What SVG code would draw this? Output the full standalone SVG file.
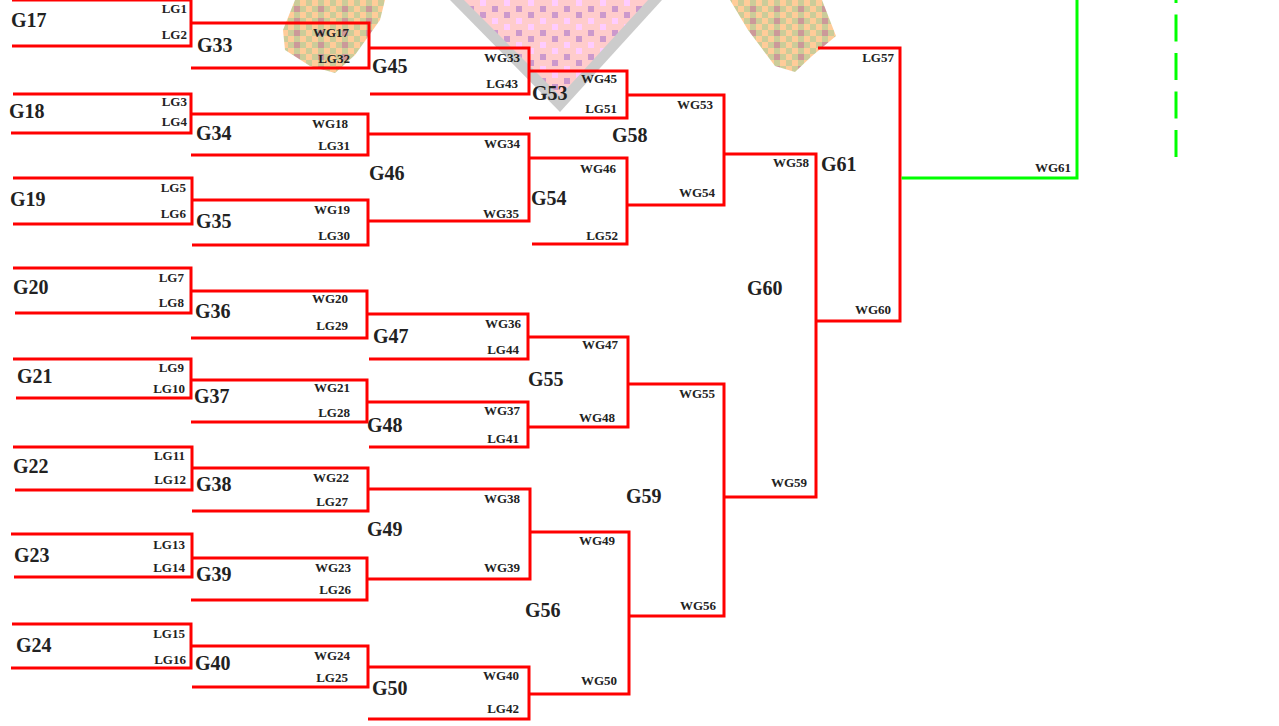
<svg xmlns="http://www.w3.org/2000/svg" width="1279" height="726" viewBox="0 0 1279 726">
<defs>
<pattern id="orng" width="24" height="12" patternUnits="userSpaceOnUse">
<rect width="24" height="12" fill="#ffcc99"/>
<rect x="6" y="0" width="6" height="6" fill="#cccc99"/>
<rect x="18" y="0" width="6" height="6" fill="#cccc99"/>
<rect x="0" y="6" width="6" height="6" fill="#cccc99"/>
<rect x="12" y="6" width="6" height="6" fill="#cccc99"/>
<rect x="6" y="6" width="6" height="6" fill="#cc9999"/>
</pattern>
<pattern id="pink" width="24" height="24" patternUnits="userSpaceOnUse">
<rect width="24" height="24" fill="#ffcccc"/>
<rect x="0" y="0" width="6" height="6" fill="#ffccff"/>
<rect x="0" y="12" width="6" height="6" fill="#cc99cc"/>
<rect x="12" y="6" width="6" height="6" fill="#cc99cc"/>
<rect x="12" y="18" width="6" height="6" fill="#ffccff"/>
</pattern>
<style>
.br{fill:none;stroke:#ff0000;stroke-width:3;stroke-linejoin:miter;stroke-linecap:butt}
.gr{fill:none;stroke:#00ff00;stroke-width:3}
.g{font-family:"Liberation Serif","Times New Roman",serif;font-weight:bold;font-size:20px;fill:#222}
.s{font-family:"Liberation Serif","Times New Roman",serif;font-weight:bold;font-size:13px;fill:#222;text-anchor:end}
</style>
</defs>
<rect width="1279" height="726" fill="#ffffff"/>
<g id="watermark">
<polygon points="450,0 662,0 560,112" fill="#cccccc"/>
<polygon points="464,0 648,0 560,96" fill="url(#pink)"/>
<polygon points="295,0 385,0 380,20 355,55 335,73 310,66 285,50 283,30" fill="url(#orng)"/>
<polygon points="730,0 822,0 836,36 812,56 795,72 775,66 748,30" fill="url(#orng)"/>
</g>
<g id="connectors">
<path class="br" d="M12,0 H191 V46 H12"/>
<path class="br" d="M191,23 H369 V68 H191"/>
<path class="br" d="M369,48 H529 V94 H370"/>
<path class="br" d="M529,71 H627 V118 H529"/>
<path class="br" d="M627,95 H724 V205 H627"/>
<path class="br" d="M724,154 H816 V497 H724"/>
<path class="br" d="M818,48 H900 V321 H816"/>
<path class="gr" d="M901.5,178 H1077 V0"/>
<path class="gr" d="M1176,157 V0" stroke-dasharray="27 11.5"/>
<path class="br" d="M13,94 H191 V133 H11"/>
<path class="br" d="M191,114 H368 V155 H191"/>
<path class="br" d="M368,134 H529 V221 H368"/>
<path class="br" d="M529,158 H627 V244 H532"/>
<path class="br" d="M13,178 H192 V224 H13"/>
<path class="br" d="M192,200 H368 V245 H192"/>
<path class="br" d="M13,268 H191 V313 H15"/>
<path class="br" d="M191,291 H367 V338 H191"/>
<path class="br" d="M367,314 H528 V359 H369"/>
<path class="br" d="M528,337 H628 V427 H528"/>
<path class="br" d="M628,384 H724 V616 H629"/>
<path class="br" d="M13,359 H191 V398 H16"/>
<path class="br" d="M191,380 H367 V422 H191"/>
<path class="br" d="M367,402 H528 V447 H369"/>
<path class="br" d="M13,447 H192 V490 H15"/>
<path class="br" d="M192,468 H368 V511 H192"/>
<path class="br" d="M368,489 H530 V579 H367"/>
<path class="br" d="M530,532 H629 V694 H529"/>
<path class="br" d="M11,534 H192 V577 H14"/>
<path class="br" d="M192,558 H367 V600 H191"/>
<path class="br" d="M12,624 H191 V668 H11"/>
<path class="br" d="M191,646 H368 V687 H192"/>
<path class="br" d="M368,667 H529 V719 H368"/>
</g>
<g id="G17"><text class="g" x="11" y="27">G17</text><text class="s" x="187" y="13">LG1</text><text class="s" x="187" y="39">LG2</text></g>
<g id="G18"><text class="g" x="9" y="118">G18</text><text class="s" x="187" y="106">LG3</text><text class="s" x="187" y="126">LG4</text></g>
<g id="G19"><text class="g" x="10" y="206">G19</text><text class="s" x="186" y="192">LG5</text><text class="s" x="186" y="218">LG6</text></g>
<g id="G20"><text class="g" x="13" y="294">G20</text><text class="s" x="184" y="282">LG7</text><text class="s" x="184" y="307">LG8</text></g>
<g id="G21"><text class="g" x="17" y="383">G21</text><text class="s" x="184" y="372">LG9</text><text class="s" x="185" y="393">LG10</text></g>
<g id="G22"><text class="g" x="13" y="473">G22</text><text class="s" x="185" y="460">LG11</text><text class="s" x="186" y="484">LG12</text></g>
<g id="G23"><text class="g" x="14" y="562">G23</text><text class="s" x="185" y="549">LG13</text><text class="s" x="185" y="572">LG14</text></g>
<g id="G24"><text class="g" x="16" y="652">G24</text><text class="s" x="185" y="638">LG15</text><text class="s" x="186" y="664">LG16</text></g>
<g id="G33"><text class="g" x="197" y="52">G33</text><text class="s" x="349" y="37">WG17</text><text class="s" x="350" y="63">LG32</text></g>
<g id="G34"><text class="g" x="196" y="140">G34</text><text class="s" x="348" y="128">WG18</text><text class="s" x="350" y="150">LG31</text></g>
<g id="G35"><text class="g" x="196" y="228">G35</text><text class="s" x="350" y="214">WG19</text><text class="s" x="350" y="240">LG30</text></g>
<g id="G36"><text class="g" x="195" y="318">G36</text><text class="s" x="348" y="303">WG20</text><text class="s" x="348" y="330">LG29</text></g>
<g id="G37"><text class="g" x="194" y="403">G37</text><text class="s" x="350" y="392">WG21</text><text class="s" x="350" y="417">LG28</text></g>
<g id="G38"><text class="g" x="196" y="491">G38</text><text class="s" x="349" y="482">WG22</text><text class="s" x="348" y="506">LG27</text></g>
<g id="G39"><text class="g" x="196" y="581">G39</text><text class="s" x="351" y="572">WG23</text><text class="s" x="351" y="594">LG26</text></g>
<g id="G40"><text class="g" x="195" y="670">G40</text><text class="s" x="350" y="660">WG24</text><text class="s" x="348" y="682">LG25</text></g>
<g id="G45"><text class="g" x="372" y="73">G45</text><text class="s" x="520" y="62">WG33</text><text class="s" x="518" y="88">LG43</text></g>
<g id="G46"><text class="g" x="369" y="180">G46</text><text class="s" x="520" y="148">WG34</text><text class="s" x="519" y="218">WG35</text></g>
<g id="G47"><text class="g" x="373" y="343">G47</text><text class="s" x="521" y="328">WG36</text><text class="s" x="519" y="354">LG44</text></g>
<g id="G48"><text class="g" x="367" y="432">G48</text><text class="s" x="520" y="415">WG37</text><text class="s" x="519" y="443">LG41</text></g>
<g id="G49"><text class="g" x="367" y="536">G49</text><text class="s" x="520" y="503">WG38</text><text class="s" x="520" y="572">WG39</text></g>
<g id="G50"><text class="g" x="372" y="695">G50</text><text class="s" x="519" y="680">WG40</text><text class="s" x="519" y="713">LG42</text></g>
<g id="G53"><text class="g" x="532" y="100">G53</text><text class="s" x="617" y="83">WG45</text><text class="s" x="617" y="113">LG51</text></g>
<g id="G54"><text class="g" x="531" y="205">G54</text><text class="s" x="616" y="173">WG46</text><text class="s" x="618" y="240">LG52</text></g>
<g id="G55"><text class="g" x="528" y="386">G55</text><text class="s" x="618" y="349">WG47</text><text class="s" x="615" y="422">WG48</text></g>
<g id="G56"><text class="g" x="525" y="617">G56</text><text class="s" x="615" y="545">WG49</text><text class="s" x="617" y="685">WG50</text></g>
<g id="G58"><text class="g" x="612" y="142">G58</text><text class="s" x="713" y="109">WG53</text><text class="s" x="715" y="197">WG54</text></g>
<g id="G59"><text class="g" x="626" y="503">G59</text><text class="s" x="715" y="398">WG55</text><text class="s" x="716" y="610">WG56</text></g>
<g id="G60"><text class="g" x="747" y="295">G60</text><text class="s" x="809" y="167">WG58</text><text class="s" x="807" y="487">WG59</text></g>
<g id="G61"><text class="g" x="821" y="171">G61</text><text class="s" x="894" y="62">LG57</text><text class="s" x="891" y="314">WG60</text></g>
<g id="final"><text class="s" x="1071" y="172">WG61</text></g>
</svg>
